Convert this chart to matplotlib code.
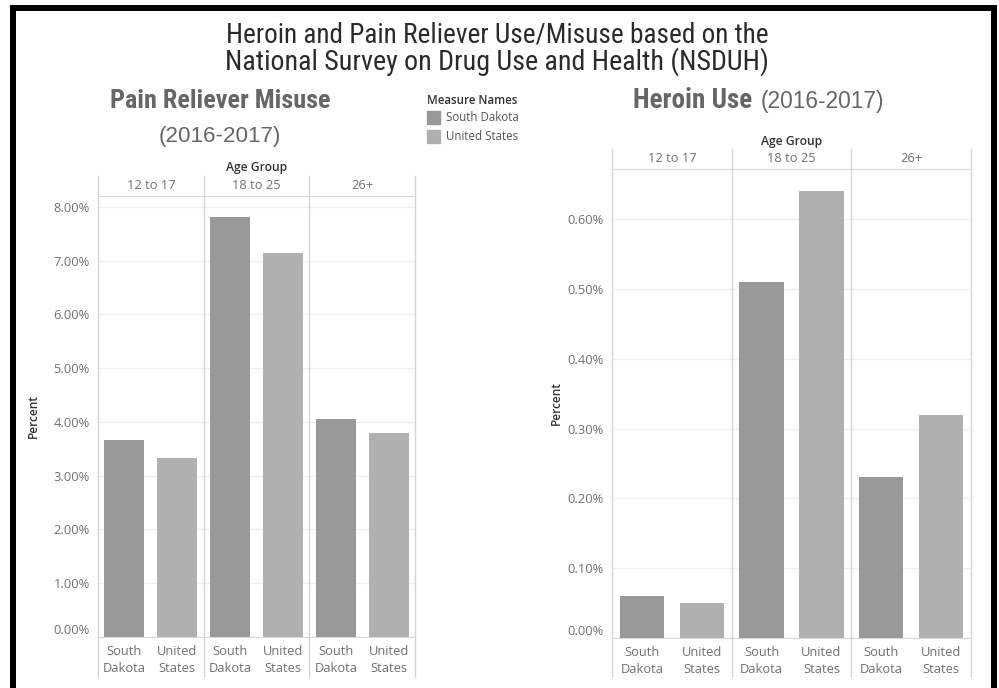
import matplotlib
matplotlib.use('Agg')
import matplotlib.pyplot as plt
from matplotlib import font_manager as fm
from matplotlib.patches import Rectangle
import numpy as np

# ---------------- data ----------------
age_groups = ['12 to 17', '18 to 25', '26+']
series = ['South Dakota', 'United States']
series_ticklabels = ['South\nDakota', 'United\nStates']
pain_sd = [3.66, 7.81, 4.06]
pain_us = [3.32, 7.14, 3.80]
heroin_sd = [0.06, 0.51, 0.23]
heroin_us = [0.05, 0.64, 0.32]
pain_ticks = [0, 1, 2, 3, 4, 5, 6, 7, 8]
heroin_ticks = [0.0, 0.1, 0.2, 0.3, 0.4, 0.5, 0.6]

SD_COLOR = '#999999'
US_COLOR = '#b0b0b0'

W, H = 999, 688
fig = plt.figure(figsize=(W / 100, H / 100), dpi=100)
fig.patch.set_facecolor('white')

avail = {f.name for f in fm.fontManager.ttflist}
def pick(c):
    for n in c:
        if n in avail:
            return n
    return 'DejaVu Sans'

NARROW = pick(['Liberation Sans Narrow', 'Roboto Condensed', 'Open Sans Condensed', 'Liberation Sans'])
BODY = pick(['Open Sans', 'Lato', 'Noto Sans', 'DejaVu Sans'])
HELV = pick(['Liberation Sans', 'Arial', 'DejaVu Sans'])

renderer = fig.canvas.get_renderer()

def fx(x):
    return x / W

def fy(y):
    return 1 - y / H

def fit_text(x, y, s, width, size0=14, ha='center', va='baseline', **kw):
    t = fig.text(fx(x), fy(y), s, ha=ha, va=va, fontsize=size0, **kw)
    w = t.get_window_extent(renderer).width
    t.set_fontsize(size0 * width / w)
    return t

# ---------------- titles ----------------
fit_text(497, 42, 'Heroin and Pain Reliever Use/Misuse based on the', 546,
         family=NARROW, color='#2a2a2a')
fit_text(497, 70, 'National Survey on Drug Use and Health (NSDUH)', 546,
         family=NARROW, color='#2a2a2a')
fit_text(110, 108, 'Pain Reliever Misuse', 223, ha='left', family=NARROW,
         weight='bold', color='#666666')
fit_text(159, 142, '(2016-2017)', 123, ha='left', family=HELV, color='#666666')
fit_text(633, 108, 'Heroin Use', 120, ha='left', family=NARROW,
         weight='bold', color='#666666')
fit_text(761, 108, '(2016-2017)', 125, ha='left', family=HELV, color='#666666')

# ---------------- legend ----------------
fig.text(fx(427), fy(100), 'Measure Names', ha='left', va='center', fontsize=8.3,
         family=BODY, color='#333333', weight='semibold')
for i, (name, col) in enumerate(zip(series, [SD_COLOR, US_COLOR])):
    yc = 117.5 + i * 19
    fig.patches.append(Rectangle((fx(427), fy(yc + 6)), fx(13), 12 / H,
                                 transform=fig.transFigure, color=col))
    fig.text(fx(446), fy(yc), name, ha='left', va='center', fontsize=8.3,
             family=BODY, color='#555555')

# ---------------- panels ----------------
def panel(left, right, top, bottom, header_top, label_bottom, grp_y,
          sd, us, ymax, ticks, fmt, bar_w, ylabel_x):
    ax = fig.add_axes([fx(left), fy(bottom), (right - left) / W, (bottom - top) / H])
    h = bottom - top
    x = np.arange(len(age_groups)) * 2
    ax.bar(x, sd, width=bar_w, color=SD_COLOR, zorder=3)
    ax.bar(x + 1, us, width=bar_w, color=US_COLOR, zorder=3)
    ax.set_xlim(-0.5, 2 * len(age_groups) - 0.5)
    ax.set_ylim(0, ymax)
    ax.set_yticks(ticks)
    ax.set_yticklabels([fmt.format(t) for t in ticks], family=BODY, fontsize=9.3,
                       color='#707070')
    ax.get_yticklabels()[0].set_va('bottom')
    ax.tick_params(axis='y', length=0, pad=6)
    ax.set_xticks(np.arange(2 * len(age_groups)))
    ax.set_xticklabels(series_ticklabels * len(age_groups), family=BODY,
                       fontsize=9.3, color='#707070', linespacing=1.4)
    ax.tick_params(axis='x', length=0, pad=6)
    ax.yaxis.grid(True, color='#eeeeee', lw=1, zorder=0)
    ax.set_axisbelow(True)
    for s in ['left', 'right']:
        ax.spines[s].set_visible(False)
    ax.spines['top'].set_color('#d9d9d9')
    ax.spines['bottom'].set_color('#d9d9d9')
    ax.spines['top'].set_zorder(5)
    ymin_ext = -(label_bottom - bottom) / h
    ymax_ext = 1 + (top - header_top) / h
    for v in np.arange(len(age_groups) + 1) * 2 - 0.5:
        ax.axvline(v, ymin=ymin_ext, ymax=ymax_ext, color='#d4d4d4', lw=1,
                   clip_on=False, zorder=4)
    tr = ax.get_xaxis_transform()
    hy = 1 + (top - (header_top + top) / 2) / h
    for g, name in enumerate(age_groups):
        ax.text(2 * g + 0.5, hy, name, transform=tr, ha='center', va='center',
                family=BODY, fontsize=9.3, color='#707070')
    ax.text(0.5, 1 + (top - grp_y) / h, 'Age Group', transform=ax.transAxes,
            ha='center', va='center', family=BODY, fontsize=8.7,
            color='#333333', weight='semibold')
    ax.set_ylabel('Percent', family=BODY, fontsize=8.5, color='#333333',
                  weight='semibold')
    ax.yaxis.set_label_coords((ylabel_x - left) / (right - left), 0.5)
    return ax

panel(98, 415, 196, 637, 176, 677, 167, pain_sd, pain_us, 8.2, pain_ticks,
      '{:.2f}%', 0.76, 40)
panel(612, 971, 169, 638, 149, 677, 141, heroin_sd, heroin_us, 0.672,
      heroin_ticks, '{:.2f}%', 0.74, 563)

# ---------------- frame ----------------
fig.patches.append(Rectangle((fx(13), fy(690)), (994 - 13) / W, (690 - 7.5) / H,
                             transform=fig.transFigure, fill=False,
                             ec='black', lw=6 * 0.72))

fig.savefig('out.png', dpi=100)
